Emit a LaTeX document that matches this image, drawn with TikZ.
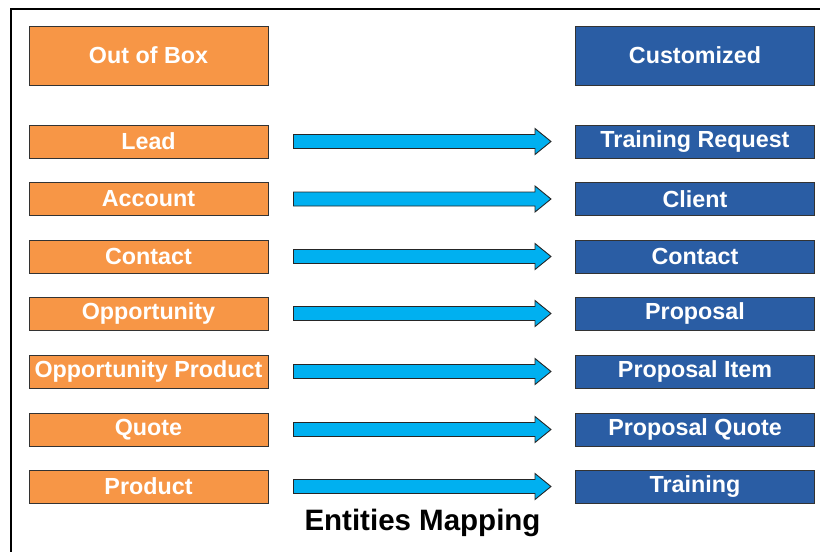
\documentclass[tikz,border=0pt]{standalone}
\usepackage{fontspec}
\setmainfont{Liberation Sans}
\usetikzlibrary{calc}
\definecolor{oobOrange}{HTML}{F79646}
\definecolor{custBlue}{HTML}{2A5DA4}
\definecolor{mapCyan}{HTML}{00B0F0}
\tikzset{
  oob/.style={draw=black!80,line width=1pt,fill=oobOrange,text=white,
    minimum width=239pt,minimum height=33pt,inner sep=0pt,
    font=\fontsize{23.3}{23.3}\selectfont\bfseries},
  cust/.style={oob,fill=custBlue},
  maparrow/.style={draw=black!85,line width=0.9pt,fill=mapCyan,line join=miter}
}
\begin{document}
\begin{tikzpicture}[x=1pt,y=-1pt]
			\useasboundingbox (0,0) rectangle (820,552);
			\draw[line width=2pt] (11,552)--(11,9)--(820,9);
			% column heads
			\node[oob,minimum height=59pt] (oobhead) at (148.5,55.5) {Out of Box};
			\node[cust,minimum height=59pt] (custhead) at (695,55.5) {Customized};
			% entities
			\node[oob] (l1) at (148.5,141.5) {Lead};
			\node[oob] (l2) at (148.5,199) {Account};
			\node[oob] (l3) at (148.5,256.5) {Contact};
			\node[oob] (l4) at (148.5,313.5) {Opportunity};
			\node[oob] (l5) at (148.5,371.5) {Opportunity Product};
			\node[oob] (l6) at (148.5,429.5) {Quote};
			\node[oob] (l7) at (148.5,486.5) {Product};
			\node[cust] (r1) at (695,141.5) {Training Request};
			\node[cust] (r2) at (695,199) {Client};
			\node[cust] (r3) at (695,256.5) {Contact};
			\node[cust] (r4) at (695,313.5) {Proposal};
			\node[cust] (r5) at (695,371.5) {Proposal Item};
			\node[cust] (r6) at (695,429.5) {Proposal Quote};
			\node[cust] (r7) at (695,486.5) {Training};
			% mapping arrows
			\foreach \i in {1,...,7}
				\draw[maparrow] ($(l\i.east)+(25,7)$) -- ($(r\i.west)+(-40,7)$) -- ++(0,6)
					-- ($(r\i.west)+(-24,0)$) -- ($(r\i.west)+(-40,-13)$) -- ++(0,6)
					-- ($(l\i.east)+(25,-7)$) -- cycle;
			\node[font=\fontsize{29.5}{29.5}\selectfont\bfseries] (title) at (422.5,523) {Entities Mapping};
		\end{tikzpicture}
\end{document}
